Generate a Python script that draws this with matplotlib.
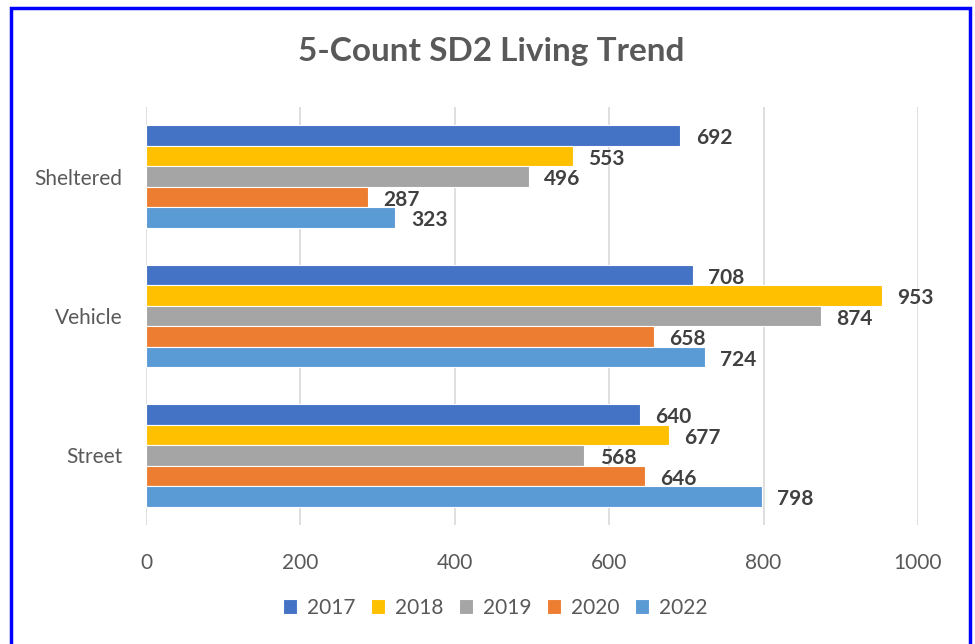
import matplotlib
matplotlib.use("Agg")
import matplotlib.pyplot as plt
from matplotlib.patches import Rectangle
import numpy as np

categories = ["Street", "Vehicle", "Sheltered"]
years = ["2017", "2018", "2019", "2020", "2022"]
values = {
    "2017": [640, 708, 692],
    "2018": [677, 953, 553],
    "2019": [568, 874, 496],
    "2020": [646, 658, 287],
    "2022": [798, 724, 323],
}
colors = ["#4472C4", "#FFC000", "#A5A5A5", "#ED7D31", "#5B9BD5"]
xticks = [0, 200, 400, 600, 800, 1000]

plt.rcParams['font.family'] = ['Lato', 'DejaVu Sans']

fig = plt.figure(figsize=(9.75, 6.44), dpi=100)
ax = fig.add_axes([146/975, 1-525/644, (918-146)/975, (525-107)/644])

h = 0.147
y = np.arange(len(categories))
for i, yr in enumerate(years):
    off = (2 - i) * h
    bars = ax.barh(y + off, values[yr], height=h, color=colors[i], edgecolor='white', linewidth=0.8, label=yr, zorder=3)
    for b, v in zip(bars, values[yr]):
        ax.text(b.get_width() + 20, b.get_y() + b.get_height()/2 - 0.02, str(v), va='center', ha='left',
                fontsize=15, fontweight='bold', color='#404040', zorder=4)

ax.set_xlim(0, 1000)
ax.set_ylim(-0.5, 2.5)
ax.set_xticks(xticks)
ax.set_xticklabels([str(t) for t in xticks], fontsize=15, color='#595959')
ax.set_yticks(y)
ax.set_yticklabels(categories, fontsize=15, color='#595959')
ax.tick_params(axis='x', length=0, pad=20)
ax.tick_params(axis='y', length=0, pad=17)
ax.grid(axis='x', color='#D9D9D9', linewidth=1.2, zorder=0)
for s in ax.spines.values():
    s.set_visible(False)

fig.suptitle("5-Count SD2 Living Trend", x=(300+683)/2/975, y=1-52/644, va='center',
             fontsize=24, fontweight='bold', color='#595959')

handles, labels = ax.get_legend_handles_labels()
leg = fig.legend(handles, labels, loc='center', bbox_to_anchor=(495/975, 1-608/644), ncol=5,
                 frameon=False, fontsize=15, handlelength=0.7, handleheight=0.7,
                 columnspacing=0.75, handletextpad=0.45, labelcolor='#595959')

fig.patches.append(Rectangle((11/975, -0.05), (970-11)/975, 1.05 - 8/644, transform=fig.transFigure,
                             fill=False, edgecolor='#0000FF', linewidth=2.5, zorder=10))

fig.savefig("out.png", dpi=100)
